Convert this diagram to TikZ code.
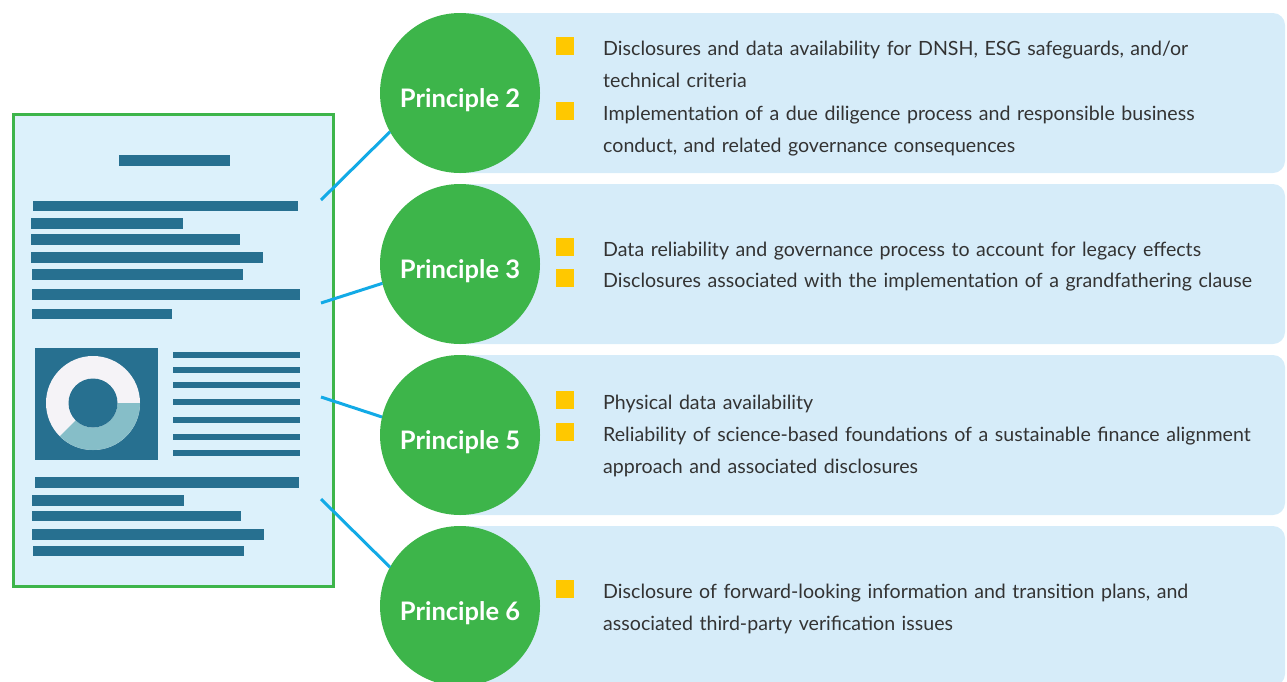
\documentclass[tikz,border=0pt]{standalone}
\usepackage{fontspec}
\setmainfont{Lato}
\usepackage{tikz}
\usetikzlibrary{positioning}
\definecolor{panel-blue}{HTML}{D6ECF9}
\definecolor{doc-blue}{HTML}{DCF1FB}
\definecolor{prin-green}{HTML}{3DB54A}
\definecolor{bar-teal}{HTML}{277090}
\definecolor{ring-teal}{HTML}{86BEC8}
\definecolor{ring-white}{HTML}{F5F3F7}
\definecolor{link-blue}{HTML}{12AAE6}
\definecolor{bullet-yellow}{HTML}{FFC800}
\definecolor{body-grey}{HTML}{333333}

\begin{document}
\begin{tikzpicture}[x=1pt, y=-1pt]
				\tikzset{prin/.style={circle, fill=prin-green, minimum size=160, inner sep=0, outer sep=0, text height=32, text depth=4, text=white, font=\fontsize{25.5}{28}\selectfont\bfseries}}
				\tikzset{bar/.style={fill=bar-teal}}
				\tikzset{link/.style={draw=link-blue, line width=3}}
				\tikzset{bullet/.style={rectangle, fill=bullet-yellow, minimum size=18, inner sep=0, anchor=south west}}
				\tikzset{item/.style={anchor=base west, text width=720, align=left, inner sep=0, text=body-grey, font=\fontsize{19.6}{32}\selectfont}}
				\useasboundingbox (0,0) rectangle (1287,681);

				% panels behind the circles
				\begin{scope}
				\clip (460,0) rectangle (1287,681);
				\foreach \top in {13,184,355,526}
				\fill[panel-blue, rounded corners=12] (400,\top) rectangle (1285,\top+160);
				\end{scope}

				% the document
				\draw[prin-green, fill=doc-blue, line width=3] (13,114) rectangle (333,586);
				\node[draw=none, inner sep=0] (doc) at (173,350) {};
				\fill[bar] (119,155) rectangle (230,166);
				\fill[bar] (33,201) rectangle (298,211);
				\fill[bar] (31,218) rectangle (183,229);
				\fill[bar] (31,234) rectangle (240,245);
				\fill[bar] (31,252) rectangle (263,263);
				\fill[bar] (32,269) rectangle (243,280);
				\fill[bar] (32,289) rectangle (300,300);
				\fill[bar] (32,309) rectangle (172,319);
				\fill[bar] (35,348) rectangle (158,460);
				\fill[ring-white] (93,403) circle[radius=47];
				\fill[ring-teal] plot[domain=0:135, samples=40] ({93+47*cos(\x)},{403+47*sin(\x)})
				-- plot[domain=135:0, samples=40] ({93+24.5*cos(\x)},{403+24.5*sin(\x)}) -- cycle;
				\fill[bar] (93,403) circle[radius=24.5];
				\foreach \y in {352,367,382,399,417,434,450}
				\fill[bar] (173,\y) rectangle (300,\y+6);
				\fill[bar] (35,477) rectangle (299,488);
				\fill[bar] (32,495) rectangle (184,506);
				\fill[bar] (32,511) rectangle (241,521);
				\fill[bar] (32,529) rectangle (264,540);
				\fill[bar] (33,546) rectangle (244,556);

				% principles
				\node[prin] (p2) at (460,93) {Principle 2};
				\node[prin] (p3) at (460,264) {Principle 3};
				\node[prin] (p5) at (460,435) {Principle 5};
				\node[prin] (p6) at (460,606) {Principle 6};

				\coordinate (d2) at (321,200);
				\coordinate (d3) at (321,303);
				\coordinate (d5) at (321,397);
				\coordinate (d6) at (321,499);
				\draw[link] (d2) -- (p2.209);
				\draw[link] (d3) -- (p3.194);
				\draw[link] (d5) -- (p5.167);
				\draw[link] (d6) -- (p6.151);

				% bullet points
				\node[bullet] (b2a) at (556,55) {};
				\node[item] (t2a) at (603,55) {Disclosures and data availability for DNSH, ESG safeguards, and/or\\technical criteria};
				\node[bullet] (b2b) at (556,120) {};
				\node[item] (t2b) at (603,120) {Implementation of a due diligence process and responsible business\\conduct, and related governance consequences};
				\node[bullet] (b3a) at (556,256) {};
				\node[item] (t3a) at (603,256) {Data reliability and governance process to account for legacy effects};
				\node[bullet] (b3b) at (556,287) {};
				\node[item] (t3b) at (603,287) {Disclosures associated with the implementation of a grandfathering clause};
				\node[bullet] (b5a) at (556,409) {};
				\node[item] (t5a) at (603,409) {Physical data availability};
				\node[bullet] (b5b) at (556,441) {};
				\node[item] (t5b) at (603,441) {Reliability of science-based foundations of a sustainable finance alignment\\approach and associated disclosures};
				\node[bullet] (b6a) at (556,598) {};
				\node[item] (t6a) at (603,598) {Disclosure of forward-looking information and transition plans, and\\associated third-party verification issues};
\end{tikzpicture}
\end{document}
